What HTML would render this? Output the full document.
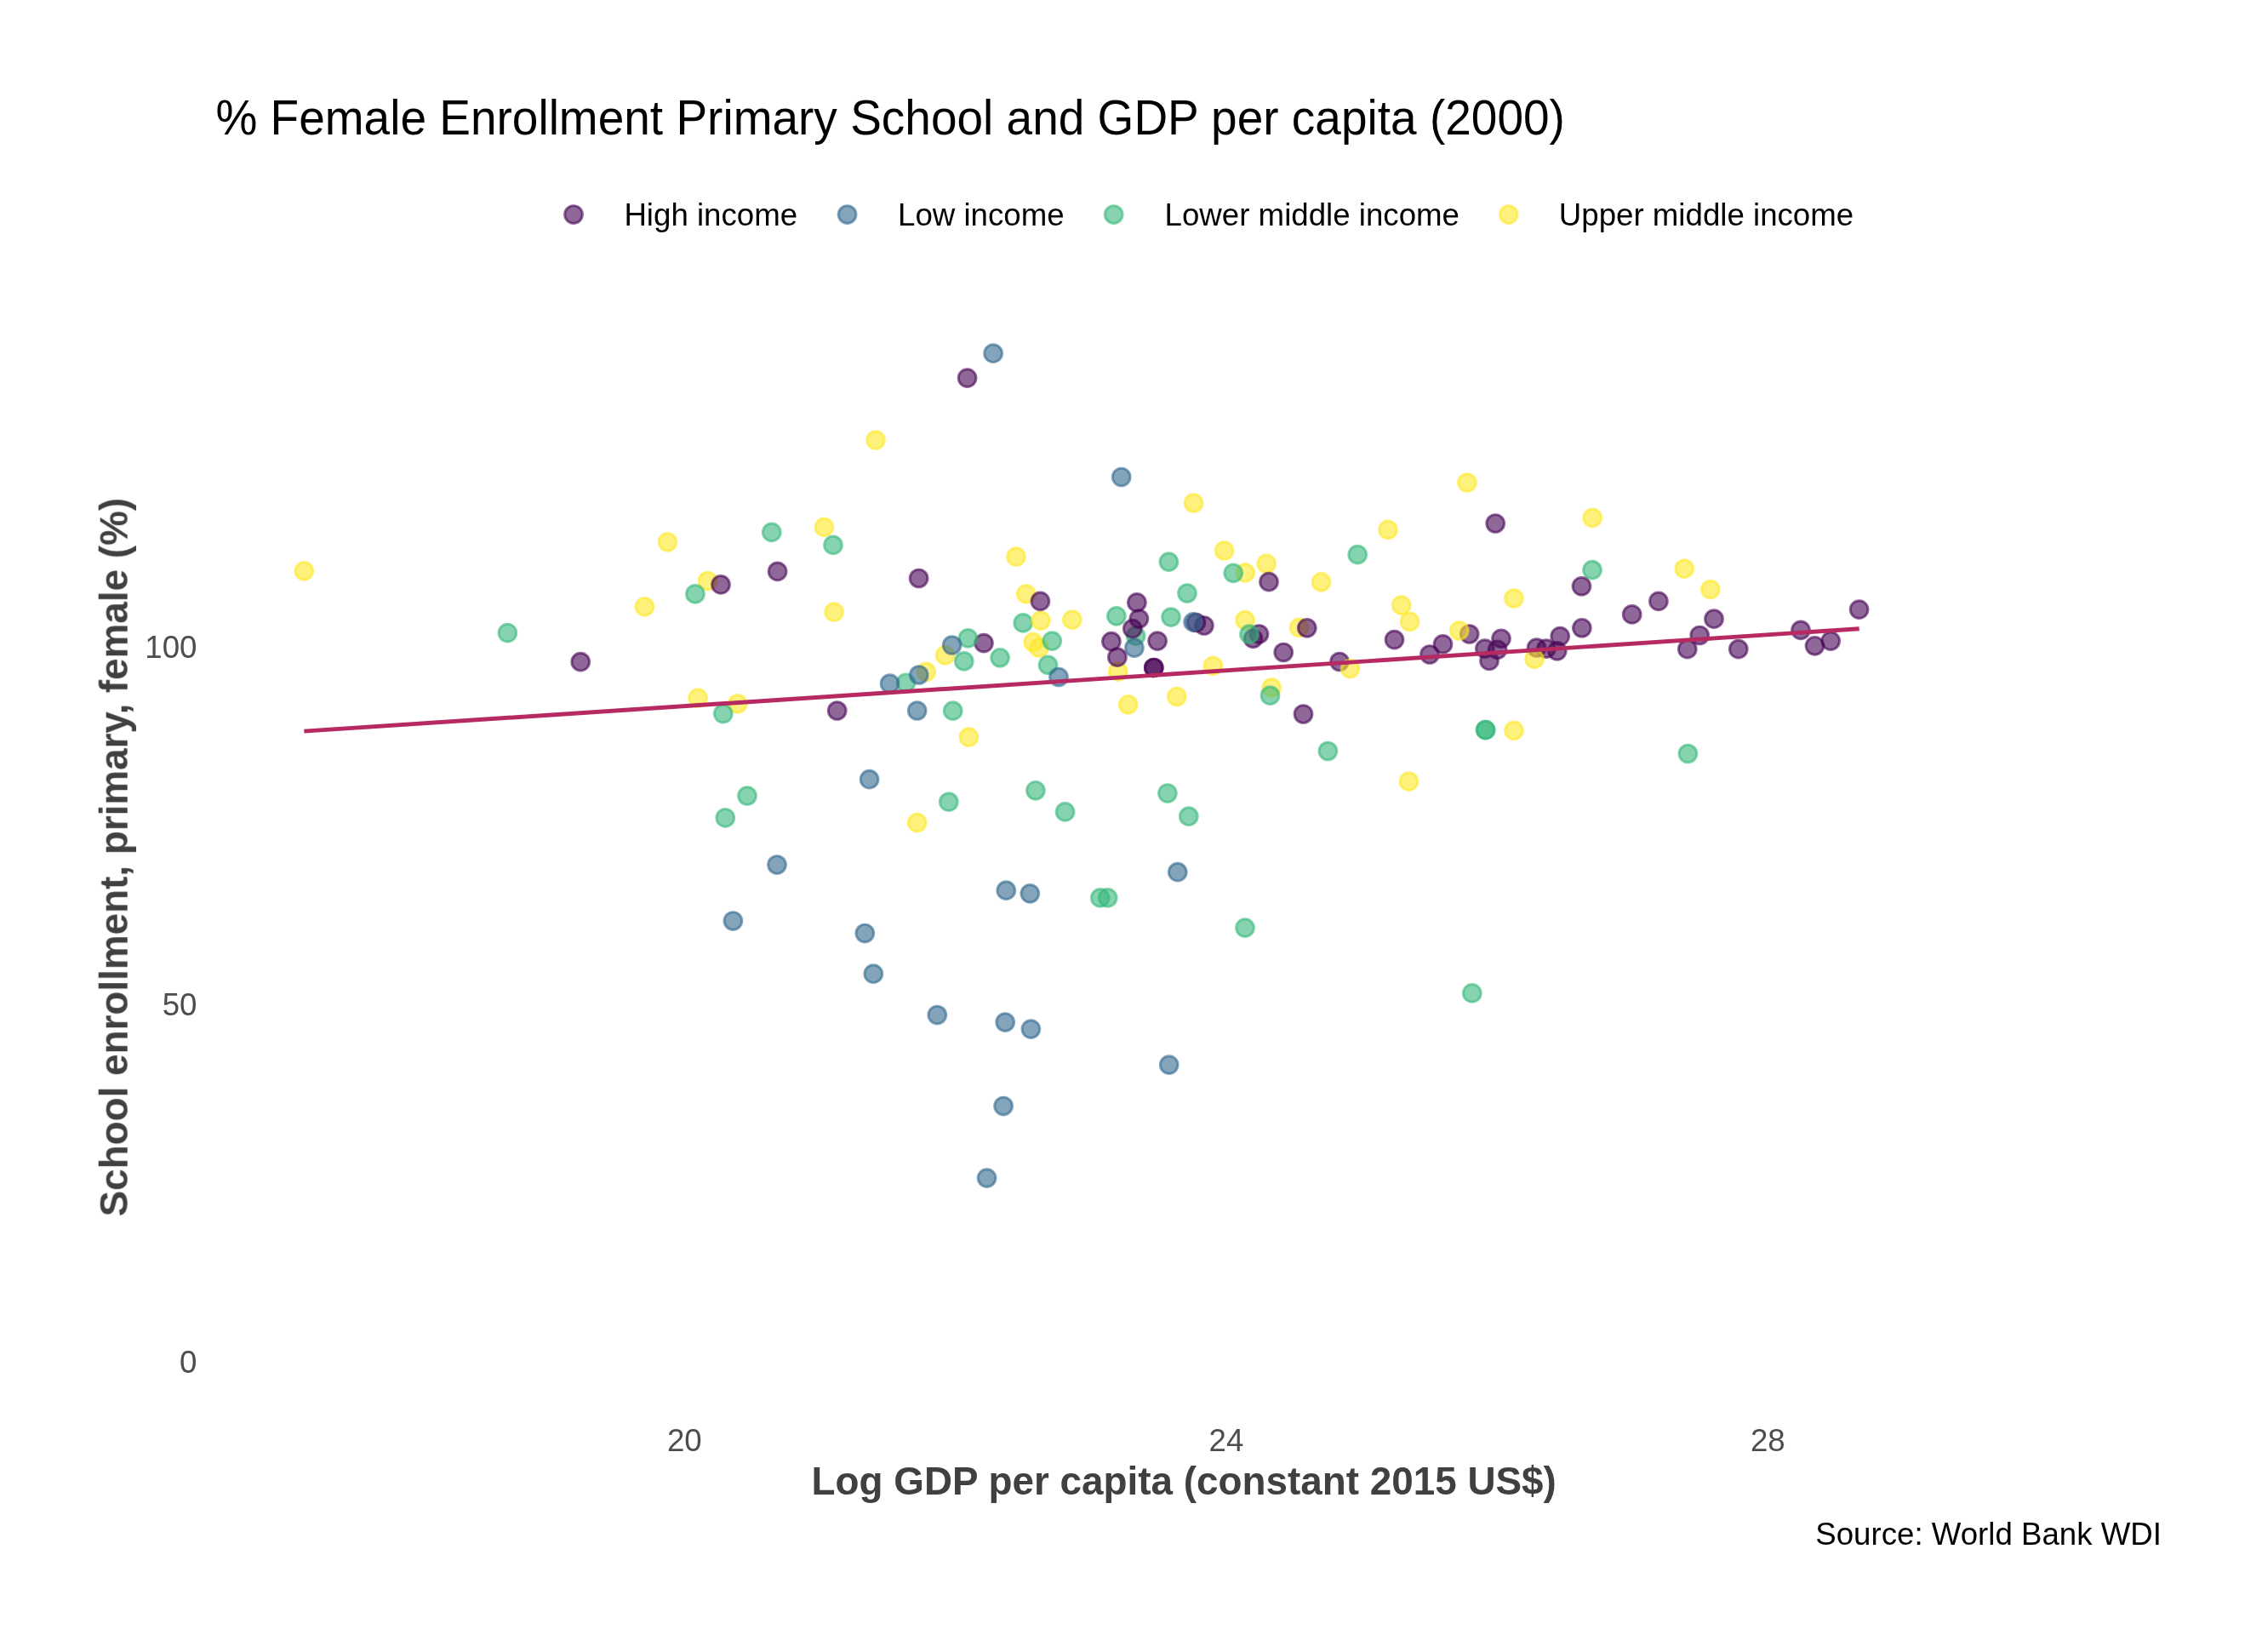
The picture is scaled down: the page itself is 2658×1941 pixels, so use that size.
<!DOCTYPE html>
<html lang="en"><head><meta charset="utf-8">
<title>% Female Enrollment Primary School and GDP per capita (2000)</title>
<style>
html,body{margin:0;padding:0;background:#fff;}
body{width:2658px;height:1941px;overflow:hidden;}
svg{display:block;}
text{font-family:"Liberation Sans",Arial,Helvetica,sans-serif;}
.tick{font-size:36.67px;fill:#4d4d4d;}
.axt{font-size:45.83px;font-weight:bold;fill:#404040;}
.leg{font-size:36.67px;fill:#000;}
.pts circle{fill-opacity:.6;stroke-opacity:.6;stroke-width:2.95;}
</style></head><body>
<svg width="2658" height="1941" viewBox="0 0 2658 1941">
<rect width="2658" height="1941" fill="#ffffff"/>
<g style="will-change:transform">
<text id="title" transform="translate(253.4 158.4) scale(1 1.045)" font-size="55" fill="#000">% Female Enrollment Primary School and GDP per capita (2000)</text>
<g class="pts">
<circle cx="674.0" cy="252.0" r="10.4" fill="#440154" stroke="#440154"/>
<circle cx="995.6" cy="252.0" r="10.4" fill="#31688E" stroke="#31688E"/>
<circle cx="1308.7" cy="252.0" r="10.4" fill="#35B779" stroke="#35B779"/>
<circle cx="1772.7" cy="252.0" r="10.4" fill="#FDE725" stroke="#FDE725"/>
</g>
<text id="l1" class="leg" x="733.4" y="265.4">High income</text>
<text id="l2" class="leg" x="1055" y="265.4">Low income</text>
<text id="l3" class="leg" x="1368.6" y="265.4">Lower middle income</text>
<text id="l4" class="leg" x="1831.8" y="265.4">Upper middle income</text>
<text id="y100" class="tick" x="231.5" y="772.6" text-anchor="end">100</text>
<text id="y50" class="tick" x="231.5" y="1192.7" text-anchor="end">50</text>
<text id="y0" class="tick" x="231.5" y="1612.6" text-anchor="end">0</text>
<text id="x20" class="tick" x="804.3" y="1705.3" text-anchor="middle">20</text>
<text id="x24" class="tick" x="1441" y="1705.3" text-anchor="middle">24</text>
<text id="x28" class="tick" x="2077.3" y="1705.3" text-anchor="middle">28</text>
<text id="xt" class="axt" x="1391.2" y="1755.8" text-anchor="middle">Log GDP per capita (constant 2015 US$)</text>
<text id="yt" class="axt" transform="translate(149.7 1007.2) rotate(-90)" text-anchor="middle">School enrollment, primary, female (%)</text>
<text id="cap" x="2540" y="1815" font-size="36.67" fill="#000" text-anchor="end">Source: World Bank WDI</text>
</g>
<g class="pts">
<circle cx="357.3" cy="670.8" r="10.4" fill="#FDE725" stroke="#FDE725"/>
<circle cx="757.5" cy="712.8" r="10.4" fill="#FDE725" stroke="#FDE725"/>
<circle cx="784.4" cy="636.8" r="10.4" fill="#FDE725" stroke="#FDE725"/>
<circle cx="831.5" cy="682.7" r="10.4" fill="#FDE725" stroke="#FDE725"/>
<circle cx="968.4" cy="619.4" r="10.4" fill="#FDE725" stroke="#FDE725"/>
<circle cx="980.1" cy="719.2" r="10.4" fill="#FDE725" stroke="#FDE725"/>
<circle cx="1194.0" cy="654.2" r="10.4" fill="#FDE725" stroke="#FDE725"/>
<circle cx="1205.8" cy="697.9" r="10.4" fill="#FDE725" stroke="#FDE725"/>
<circle cx="1214.1" cy="754.6" r="10.4" fill="#FDE725" stroke="#FDE725"/>
<circle cx="1220.9" cy="761.2" r="10.4" fill="#FDE725" stroke="#FDE725"/>
<circle cx="1110.6" cy="769.9" r="10.4" fill="#FDE725" stroke="#FDE725"/>
<circle cx="1088.3" cy="789.4" r="10.4" fill="#FDE725" stroke="#FDE725"/>
<circle cx="820.1" cy="820.2" r="10.4" fill="#FDE725" stroke="#FDE725"/>
<circle cx="866.7" cy="826.9" r="10.4" fill="#FDE725" stroke="#FDE725"/>
<circle cx="1138.4" cy="866.2" r="10.4" fill="#FDE725" stroke="#FDE725"/>
<circle cx="1029.0" cy="517.1" r="10.4" fill="#FDE725" stroke="#FDE725"/>
<circle cx="1402.5" cy="591.0" r="10.4" fill="#FDE725" stroke="#FDE725"/>
<circle cx="1631.0" cy="622.4" r="10.4" fill="#FDE725" stroke="#FDE725"/>
<circle cx="1438.6" cy="647.0" r="10.4" fill="#FDE725" stroke="#FDE725"/>
<circle cx="1488.2" cy="662.3" r="10.4" fill="#FDE725" stroke="#FDE725"/>
<circle cx="1463.2" cy="672.9" r="10.4" fill="#FDE725" stroke="#FDE725"/>
<circle cx="1552.5" cy="683.9" r="10.4" fill="#FDE725" stroke="#FDE725"/>
<circle cx="1646.7" cy="711.1" r="10.4" fill="#FDE725" stroke="#FDE725"/>
<circle cx="1259.9" cy="728.1" r="10.4" fill="#FDE725" stroke="#FDE725"/>
<circle cx="1463.0" cy="728.7" r="10.4" fill="#FDE725" stroke="#FDE725"/>
<circle cx="1656.5" cy="730.4" r="10.4" fill="#FDE725" stroke="#FDE725"/>
<circle cx="1526.6" cy="737.4" r="10.4" fill="#FDE725" stroke="#FDE725"/>
<circle cx="1313.8" cy="789.2" r="10.4" fill="#FDE725" stroke="#FDE725"/>
<circle cx="1425.4" cy="782.4" r="10.4" fill="#FDE725" stroke="#FDE725"/>
<circle cx="1494.2" cy="807.9" r="10.4" fill="#FDE725" stroke="#FDE725"/>
<circle cx="1382.8" cy="818.5" r="10.4" fill="#FDE725" stroke="#FDE725"/>
<circle cx="1325.7" cy="827.8" r="10.4" fill="#FDE725" stroke="#FDE725"/>
<circle cx="1655.4" cy="918.2" r="10.4" fill="#FDE725" stroke="#FDE725"/>
<circle cx="1723.9" cy="567.0" r="10.4" fill="#FDE725" stroke="#FDE725"/>
<circle cx="1871.2" cy="608.4" r="10.4" fill="#FDE725" stroke="#FDE725"/>
<circle cx="1979.2" cy="668.2" r="10.4" fill="#FDE725" stroke="#FDE725"/>
<circle cx="2009.8" cy="692.6" r="10.4" fill="#FDE725" stroke="#FDE725"/>
<circle cx="1778.9" cy="703.0" r="10.4" fill="#FDE725" stroke="#FDE725"/>
<circle cx="1778.9" cy="858.4" r="10.4" fill="#FDE725" stroke="#FDE725"/>
<circle cx="1077.7" cy="966.6" r="10.4" fill="#FDE725" stroke="#FDE725"/>
<circle cx="596.4" cy="743.6" r="10.4" fill="#35B779" stroke="#35B779"/>
<circle cx="816.9" cy="697.9" r="10.4" fill="#35B779" stroke="#35B779"/>
<circle cx="906.8" cy="625.4" r="10.4" fill="#35B779" stroke="#35B779"/>
<circle cx="979.0" cy="640.4" r="10.4" fill="#35B779" stroke="#35B779"/>
<circle cx="1202.2" cy="731.9" r="10.4" fill="#35B779" stroke="#35B779"/>
<circle cx="1236.3" cy="753.1" r="10.4" fill="#35B779" stroke="#35B779"/>
<circle cx="1231.5" cy="781.3" r="10.4" fill="#35B779" stroke="#35B779"/>
<circle cx="1132.8" cy="776.9" r="10.4" fill="#35B779" stroke="#35B779"/>
<circle cx="1175.1" cy="772.8" r="10.4" fill="#35B779" stroke="#35B779"/>
<circle cx="1064.5" cy="802.3" r="10.4" fill="#35B779" stroke="#35B779"/>
<circle cx="849.8" cy="838.6" r="10.4" fill="#35B779" stroke="#35B779"/>
<circle cx="1119.7" cy="835.2" r="10.4" fill="#35B779" stroke="#35B779"/>
<circle cx="1595.2" cy="651.7" r="10.4" fill="#35B779" stroke="#35B779"/>
<circle cx="1373.4" cy="660.2" r="10.4" fill="#35B779" stroke="#35B779"/>
<circle cx="1449.2" cy="673.3" r="10.4" fill="#35B779" stroke="#35B779"/>
<circle cx="1395.0" cy="697.0" r="10.4" fill="#35B779" stroke="#35B779"/>
<circle cx="1311.9" cy="723.8" r="10.4" fill="#35B779" stroke="#35B779"/>
<circle cx="1376.0" cy="725.1" r="10.4" fill="#35B779" stroke="#35B779"/>
<circle cx="1334.6" cy="747.2" r="10.4" fill="#35B779" stroke="#35B779"/>
<circle cx="1492.5" cy="817.2" r="10.4" fill="#35B779" stroke="#35B779"/>
<circle cx="1560.4" cy="882.5" r="10.4" fill="#35B779" stroke="#35B779"/>
<circle cx="1871.0" cy="669.7" r="10.4" fill="#35B779" stroke="#35B779"/>
<circle cx="1745.6" cy="857.7" r="10.4" fill="#35B779" stroke="#35B779"/>
<circle cx="1745.6" cy="857.7" r="10.4" fill="#35B779" stroke="#35B779"/>
<circle cx="1983.4" cy="885.5" r="10.4" fill="#35B779" stroke="#35B779"/>
<circle cx="878.0" cy="935.0" r="10.4" fill="#35B779" stroke="#35B779"/>
<circle cx="852.3" cy="960.9" r="10.4" fill="#35B779" stroke="#35B779"/>
<circle cx="1114.8" cy="942.2" r="10.4" fill="#35B779" stroke="#35B779"/>
<circle cx="1216.9" cy="928.8" r="10.4" fill="#35B779" stroke="#35B779"/>
<circle cx="1371.9" cy="932.0" r="10.4" fill="#35B779" stroke="#35B779"/>
<circle cx="1251.6" cy="953.9" r="10.4" fill="#35B779" stroke="#35B779"/>
<circle cx="1396.8" cy="959.2" r="10.4" fill="#35B779" stroke="#35B779"/>
<circle cx="1292.8" cy="1054.9" r="10.4" fill="#35B779" stroke="#35B779"/>
<circle cx="1301.7" cy="1054.9" r="10.4" fill="#35B779" stroke="#35B779"/>
<circle cx="1463.0" cy="1090.1" r="10.4" fill="#35B779" stroke="#35B779"/>
<circle cx="1729.8" cy="1166.9" r="10.4" fill="#35B779" stroke="#35B779"/>
<circle cx="1223.0" cy="729.1" r="10.4" fill="#FDE725" stroke="#FDE725"/>
<circle cx="1244.0" cy="795.5" r="10.4" fill="#31688E" stroke="#31688E"/>
<circle cx="1079.8" cy="793.0" r="10.4" fill="#31688E" stroke="#31688E"/>
<circle cx="1045.6" cy="803.2" r="10.4" fill="#31688E" stroke="#31688E"/>
<circle cx="1077.7" cy="835.0" r="10.4" fill="#31688E" stroke="#31688E"/>
<circle cx="1317.7" cy="560.5" r="10.4" fill="#31688E" stroke="#31688E"/>
<circle cx="1332.9" cy="761.2" r="10.4" fill="#31688E" stroke="#31688E"/>
<circle cx="1167.1" cy="415.2" r="10.4" fill="#31688E" stroke="#31688E"/>
<circle cx="1021.6" cy="915.7" r="10.4" fill="#31688E" stroke="#31688E"/>
<circle cx="913.0" cy="1016.0" r="10.4" fill="#31688E" stroke="#31688E"/>
<circle cx="1182.3" cy="1046.2" r="10.4" fill="#31688E" stroke="#31688E"/>
<circle cx="1210.3" cy="1049.8" r="10.4" fill="#31688E" stroke="#31688E"/>
<circle cx="861.4" cy="1082.0" r="10.4" fill="#31688E" stroke="#31688E"/>
<circle cx="1016.3" cy="1096.5" r="10.4" fill="#31688E" stroke="#31688E"/>
<circle cx="1026.3" cy="1144.2" r="10.4" fill="#31688E" stroke="#31688E"/>
<circle cx="1101.3" cy="1192.5" r="10.4" fill="#31688E" stroke="#31688E"/>
<circle cx="1181.2" cy="1201.0" r="10.4" fill="#31688E" stroke="#31688E"/>
<circle cx="1211.4" cy="1209.1" r="10.4" fill="#31688E" stroke="#31688E"/>
<circle cx="1383.8" cy="1024.7" r="10.4" fill="#31688E" stroke="#31688E"/>
<circle cx="1373.7" cy="1251.1" r="10.4" fill="#31688E" stroke="#31688E"/>
<circle cx="1179.1" cy="1299.5" r="10.4" fill="#31688E" stroke="#31688E"/>
<circle cx="1159.6" cy="1384.1" r="10.4" fill="#31688E" stroke="#31688E"/>
<circle cx="682.2" cy="777.7" r="10.4" fill="#440154" stroke="#440154"/>
<circle cx="847.0" cy="686.9" r="10.4" fill="#440154" stroke="#440154"/>
<circle cx="913.6" cy="671.4" r="10.4" fill="#440154" stroke="#440154"/>
<circle cx="1079.6" cy="679.5" r="10.4" fill="#440154" stroke="#440154"/>
<circle cx="1222.4" cy="706.4" r="10.4" fill="#440154" stroke="#440154"/>
<circle cx="1156.0" cy="755.6" r="10.4" fill="#440154" stroke="#440154"/>
<circle cx="983.7" cy="835.0" r="10.4" fill="#440154" stroke="#440154"/>
<circle cx="1491.0" cy="683.7" r="10.4" fill="#440154" stroke="#440154"/>
<circle cx="1335.9" cy="707.9" r="10.4" fill="#440154" stroke="#440154"/>
<circle cx="1338.4" cy="727.0" r="10.4" fill="#440154" stroke="#440154"/>
<circle cx="1414.9" cy="735.0" r="10.4" fill="#440154" stroke="#440154"/>
<circle cx="1405.5" cy="731.5" r="10.4" fill="#440154" stroke="#440154"/>
<circle cx="1330.8" cy="738.7" r="10.4" fill="#440154" stroke="#440154"/>
<circle cx="1535.8" cy="737.8" r="10.4" fill="#440154" stroke="#440154"/>
<circle cx="1479.5" cy="745.0" r="10.4" fill="#440154" stroke="#440154"/>
<circle cx="1472.5" cy="750.3" r="10.4" fill="#440154" stroke="#440154"/>
<circle cx="1305.9" cy="753.7" r="10.4" fill="#440154" stroke="#440154"/>
<circle cx="1360.1" cy="753.1" r="10.4" fill="#440154" stroke="#440154"/>
<circle cx="1638.5" cy="751.6" r="10.4" fill="#440154" stroke="#440154"/>
<circle cx="1695.5" cy="756.9" r="10.4" fill="#440154" stroke="#440154"/>
<circle cx="1680.0" cy="769.0" r="10.4" fill="#440154" stroke="#440154"/>
<circle cx="1508.2" cy="766.5" r="10.4" fill="#440154" stroke="#440154"/>
<circle cx="1312.9" cy="772.2" r="10.4" fill="#440154" stroke="#440154"/>
<circle cx="1355.8" cy="784.5" r="10.4" fill="#440154" stroke="#440154"/>
<circle cx="1355.8" cy="784.5" r="10.4" fill="#440154" stroke="#440154"/>
<circle cx="1574.0" cy="777.5" r="10.4" fill="#440154" stroke="#440154"/>
<circle cx="1531.5" cy="839.0" r="10.4" fill="#440154" stroke="#440154"/>
<circle cx="1757.2" cy="615.0" r="10.4" fill="#440154" stroke="#440154"/>
<circle cx="1858.5" cy="688.8" r="10.4" fill="#440154" stroke="#440154"/>
<circle cx="1948.9" cy="706.4" r="10.4" fill="#440154" stroke="#440154"/>
<circle cx="1917.7" cy="721.9" r="10.4" fill="#440154" stroke="#440154"/>
<circle cx="2014.0" cy="727.2" r="10.4" fill="#440154" stroke="#440154"/>
<circle cx="1858.9" cy="737.8" r="10.4" fill="#440154" stroke="#440154"/>
<circle cx="1726.7" cy="745.0" r="10.4" fill="#440154" stroke="#440154"/>
<circle cx="1764.0" cy="750.3" r="10.4" fill="#440154" stroke="#440154"/>
<circle cx="1833.2" cy="747.6" r="10.4" fill="#440154" stroke="#440154"/>
<circle cx="1997.2" cy="746.5" r="10.4" fill="#440154" stroke="#440154"/>
<circle cx="2116.0" cy="740.4" r="10.4" fill="#440154" stroke="#440154"/>
<circle cx="1744.9" cy="762.2" r="10.4" fill="#440154" stroke="#440154"/>
<circle cx="1759.6" cy="763.3" r="10.4" fill="#440154" stroke="#440154"/>
<circle cx="1805.6" cy="761.2" r="10.4" fill="#440154" stroke="#440154"/>
<circle cx="1816.9" cy="762.2" r="10.4" fill="#440154" stroke="#440154"/>
<circle cx="1829.8" cy="764.8" r="10.4" fill="#440154" stroke="#440154"/>
<circle cx="1750.0" cy="776.4" r="10.4" fill="#440154" stroke="#440154"/>
<circle cx="1982.8" cy="762.7" r="10.4" fill="#440154" stroke="#440154"/>
<circle cx="2042.8" cy="762.7" r="10.4" fill="#440154" stroke="#440154"/>
<circle cx="2132.5" cy="758.8" r="10.4" fill="#440154" stroke="#440154"/>
<circle cx="2151.2" cy="753.1" r="10.4" fill="#440154" stroke="#440154"/>
<circle cx="2184.6" cy="716.1" r="10.4" fill="#440154" stroke="#440154"/>
<circle cx="1136.6" cy="444.1" r="10.4" fill="#440154" stroke="#440154"/>
<circle cx="1402.1" cy="730.9" r="10.4" fill="#31688E" stroke="#31688E"/>
<circle cx="1468.0" cy="745.2" r="10.4" fill="#35B779" stroke="#35B779"/>
<circle cx="1803.1" cy="774.3" r="10.4" fill="#FDE725" stroke="#FDE725"/>
<circle cx="1586.5" cy="785.6" r="10.4" fill="#FDE725" stroke="#FDE725"/>
<circle cx="1137.5" cy="749.9" r="10.4" fill="#35B779" stroke="#35B779"/>
<circle cx="1118.6" cy="758.0" r="10.4" fill="#31688E" stroke="#31688E"/>
<circle cx="1714.8" cy="741.0" r="10.4" fill="#FDE725" stroke="#FDE725"/>
</g>
<line x1="357.3" y1="859.1" x2="2184.7" y2="738.7" stroke="#B72A61" stroke-width="4.9"/>
</svg>
</body></html>
